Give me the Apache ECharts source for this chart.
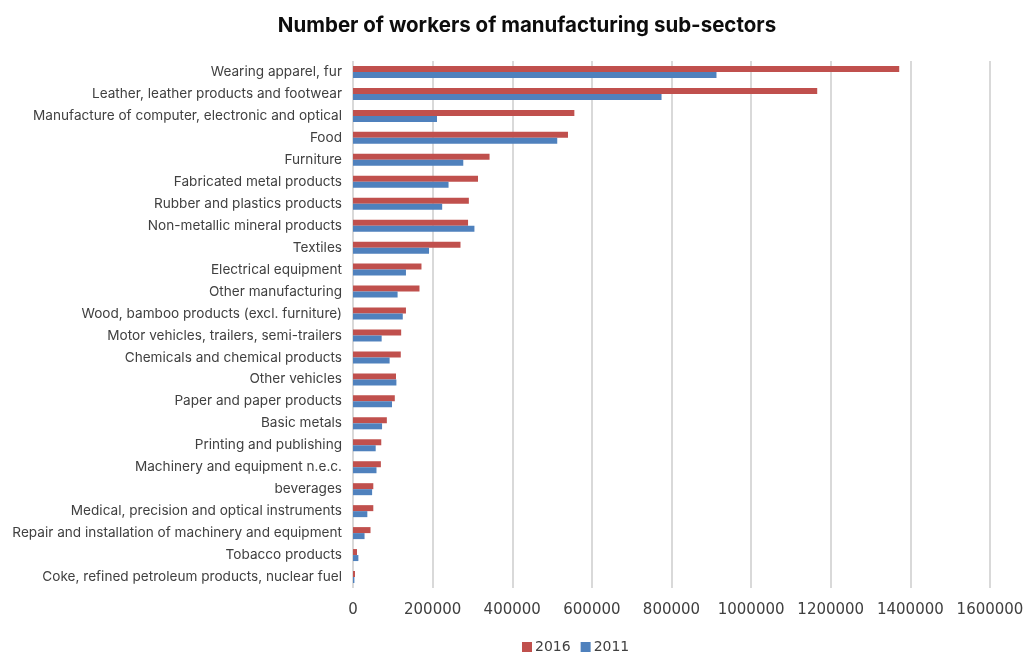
<!DOCTYPE html>
<html>
<head>
<meta charset="utf-8">
<title>Number of workers of manufacturing sub-sectors</title>
<script src="https://cdn.jsdelivr.net/npm/echarts@6/dist/echarts.min.js"></script>
<style>
  html, body { margin: 0; padding: 0; background: #ffffff; }
  #chart { width: 1031px; height: 653px; }
</style>
</head>
<body>
<div id="chart"></div>
<script>
// Sub-sectors, listed top to bottom
const categories = [
  'Wearing apparel, fur',
  'Leather, leather products and footwear',
  'Manufacture of computer, electronic and optical',
  'Food',
  'Furniture',
  'Fabricated metal products',
  'Rubber and plastics products',
  'Non-metallic mineral products',
  'Textiles',
  'Electrical equipment',
  'Other manufacturing',
  'Wood, bamboo products (excl. furniture)',
  'Motor vehicles, trailers, semi-trailers',
  'Chemicals and chemical products',
  'Other vehicles',
  'Paper and paper products',
  'Basic metals',
  'Printing and publishing',
  'Machinery and equipment n.e.c.',
  'beverages',
  'Medical, precision and optical instruments',
  'Repair and installation of machinery and equipment',
  'Tobacco products',
  'Coke, refined petroleum products, nuclear fuel'
];

// Number of workers, 2016
const workers2016 = [
  1372000, 1166000, 556000, 540000, 343000, 314000, 291000, 289000,
  270000, 172000, 167000, 133000, 121000, 120000, 108000, 105000,
  85000, 71000, 70000, 51000, 51000, 44000, 10000, 5000
];

// Number of workers, 2011
const workers2011 = [
  913000, 775000, 211000, 513000, 277000, 240000, 224000, 305000,
  191000, 133000, 112000, 125000, 72000, 92000, 109000, 98000,
  73000, 57000, 59000, 48000, 36000, 29000, 13500, 3500
];

// Value axis ticks
const xTicks = { min: 0, max: 1600000, interval: 200000 };

const FONT = 'Inter, "Noto Sans", sans-serif';
const NUM_FONT = '"DejaVu Sans", Inter, sans-serif';

const chart = echarts.init(document.getElementById('chart'), null, { renderer: 'canvas' });

chart.setOption({
  backgroundColor: '#ffffff',
  animation: false,
  title: {
    text: 'Number of workers of manufacturing sub-sectors',
    left: 522,
    textAlign: 'center',
    top: 10,
    textStyle: { fontFamily: FONT, fontSize: 20.5, fontWeight: 'bold', color: '#0d0d0d' }
  },
  legend: {
    data: ['2016', '2011'],
    top: 635,
    left: 517,
    icon: 'rect',
    itemWidth: 10,
    itemHeight: 10,
    itemGap: 10,
    textStyle: { fontFamily: NUM_FONT, fontSize: 14, color: '#404040', padding: [0, 0, 0, -2] }
  },
  grid: { left: 353, right: 41, top: 61, bottom: 65, containLabel: false },
  xAxis: {
    type: 'value',
    min: xTicks.min,
    max: xTicks.max,
    interval: xTicks.interval,
    axisLine: { show: false },
    axisTick: { show: false },
    axisLabel: {
      fontFamily: NUM_FONT,
      fontSize: 15,
      color: '#404040',
      margin: 15,
      formatter: (v) => String(v)
    },
    splitLine: { show: true, lineStyle: { color: '#d9d9d9', width: 2 } }
  },
  yAxis: {
    type: 'category',
    data: categories,
    inverse: true,
    axisLine: { show: false },
    axisTick: { show: false },
    axisLabel: { fontFamily: FONT, fontSize: 13.6, color: '#404040', margin: 11 }
  },
  series: [
    {
      name: '2016',
      type: 'bar',
      data: workers2016,
      barWidth: 6,
      barGap: '0%',
      itemStyle: { color: '#c0504d' }
    },
    {
      name: '2011',
      type: 'bar',
      data: workers2011,
      barWidth: 6,
      barGap: '0%',
      itemStyle: { color: '#4f81bd' }
    }
  ]
});
</script>
</body>
</html>
